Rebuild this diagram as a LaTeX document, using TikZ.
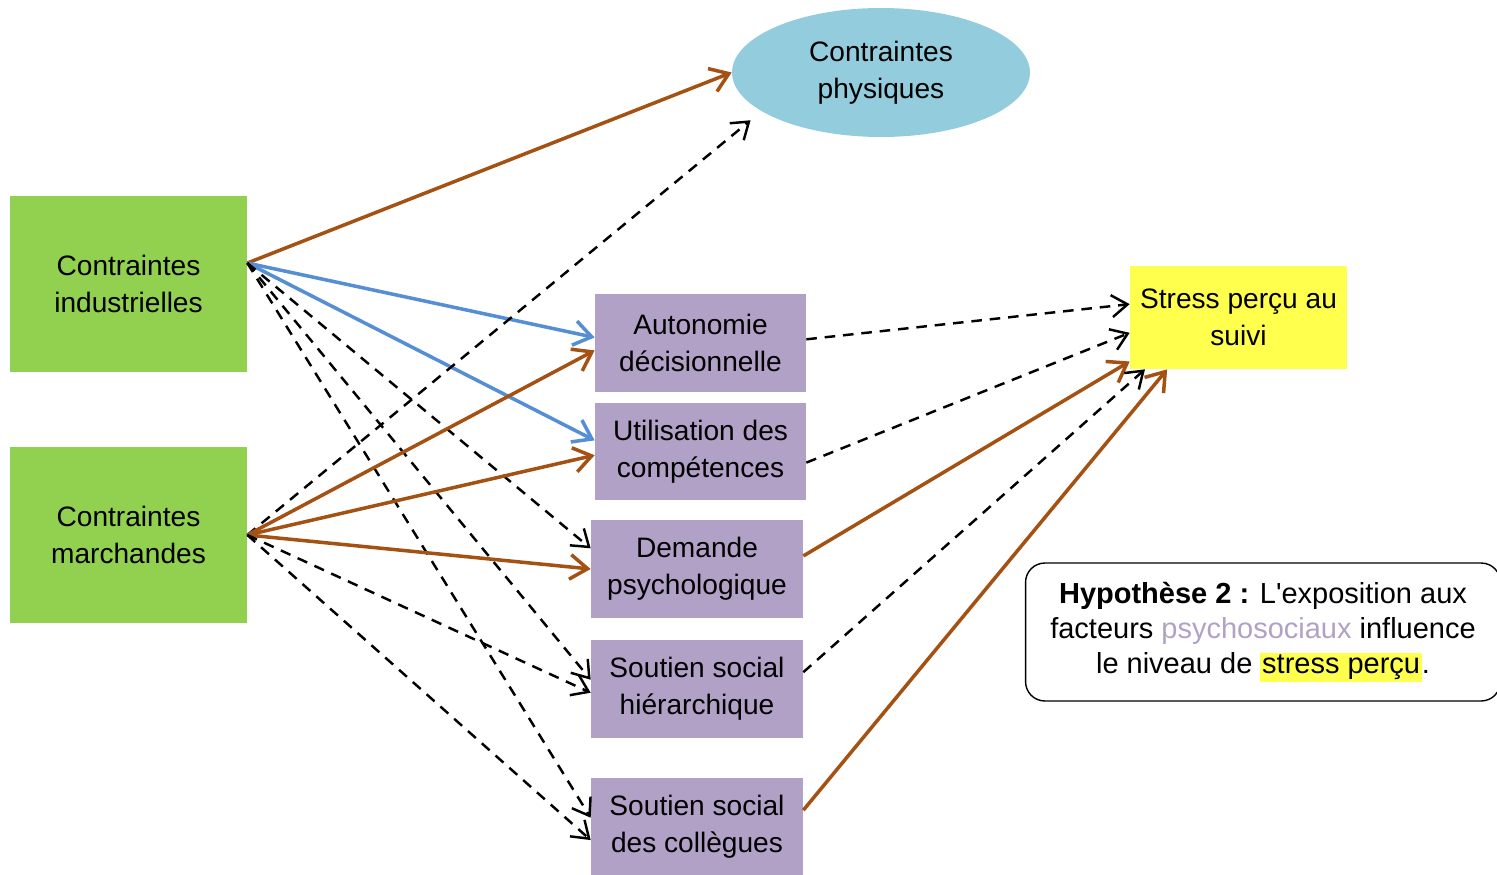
\documentclass[tikz,border=0pt]{standalone}
\usepackage{fontspec}
\setmainfont{Liberation Sans}
\usepackage{tikz}
\usetikzlibrary{arrows.meta,shapes.geometric}
\definecolor{vert}{HTML}{92D050}
\definecolor{mauve}{HTML}{B2A1C7}
\definecolor{jaune}{HTML}{FFFF4D}
\definecolor{ciel}{HTML}{93CDDD}
\definecolor{brun}{HTML}{A35214}
\definecolor{bleuf}{HTML}{558ED5}

\begin{document}
\begin{tikzpicture}[x=0.02cm,y=-0.02cm,% one unit = one pixel of the reference
			every node/.style={
				align=center,  		% so that "\\" breaks the line
				inner sep=0pt,
				font=\fontsize{16}{21}\selectfont
			},
			contrainte/.style={rectangle,fill=vert,minimum width=4.74cm,minimum height=3.52cm},
			facteur/.style={rectangle,fill=mauve,minimum width=4.22cm,minimum height=1.96cm},
			brunfl/.style={draw=brun,line width=2pt,-{Straight Barb[length=10pt,width=14pt]}},
			bleufl/.style={draw=bleuf,line width=2pt,-{Straight Barb[length=10pt,width=14pt]}},
			tirets/.style={draw=black,line width=1.4pt,dash pattern=on 6pt off 4.5pt,-{Straight Barb[length=9pt,width=12.5pt]}}
		]
		\useasboundingbox (0,0) rectangle (1497,875);
		\node[contrainte](ind) at (128.5,284){Contraintes\\industrielles};
		\node[contrainte](march) at (128.5,535){Contraintes\\marchandes};
		\node[ellipse,fill=ciel,minimum width=5.96cm,minimum height=2.58cm](phys) at (881,72.5){Contraintes\\physiques};
		\node[facteur](auto) at (700.5,343){Autonomie\\décisionnelle};
		\node[facteur](util) at (700.5,451.5){Utilisation des\\compétences};
		\node[facteur,minimum width=4.24cm](dem) at (697,569){Demande\\psychologique};
		\node[facteur,minimum width=4.24cm](ssh) at (697,689){Soutien social\\hiérarchique};
		\node[facteur,minimum width=4.24cm](ssc) at (697,827){Soutien social\\des collègues};
		\node[rectangle,fill=jaune,minimum width=4.34cm,minimum height=2.06cm](stress) at (1238.5,317.5){Stress perçu au\\suivi};
		\node[rectangle,rounded corners=11pt,draw=black,line width=0.8pt,minimum width=9.5cm,minimum height=2.76cm,
			font=\fontsize{16.5}{20}\selectfont](hyp) at (1263,632)
			{\textbf{Hypothèse 2 :} L\textquotesingle exposition aux\\facteurs \textcolor{mauve}{psychosociaux} influence\\le niveau de {\setlength{\fboxsep}{1pt}\colorbox{jaune}{stress perçu}}.};
		\path
		(ind.10)edge [brunfl]	(phys.west)
		(ind.10)edge [bleufl]	(auto.177)
		(ind.10)edge [bleufl]	(util.174)
		(ind.10)edge [tirets]	(dem.169)
		(ind.10)edge [tirets]	(ssh.175)
		(ind.10)edge [tirets]	(ssc.175)
		(march.east)edge [tirets,shorten >=8pt]	(phys.198)
		(march.east)edge [brunfl]	(auto.184)
		(march.east)edge [brunfl]	(util.182)
		(march.east)edge [brunfl]	(dem.180)
		(march.east)edge [tirets]	(ssh.182)
		(march.east)edge [tirets]	(ssc.187)
		(auto.2)edge [tirets]	(stress.173)
		(util.354)edge [tirets]	(stress.188)
		(dem.7)edge [brunfl]	(stress.202)
		(ssh.9)edge [tirets]	(stress.209)
		(ssc.9)edge [brunfl]	(stress.216)
		;
	\end{tikzpicture}
\end{document}
